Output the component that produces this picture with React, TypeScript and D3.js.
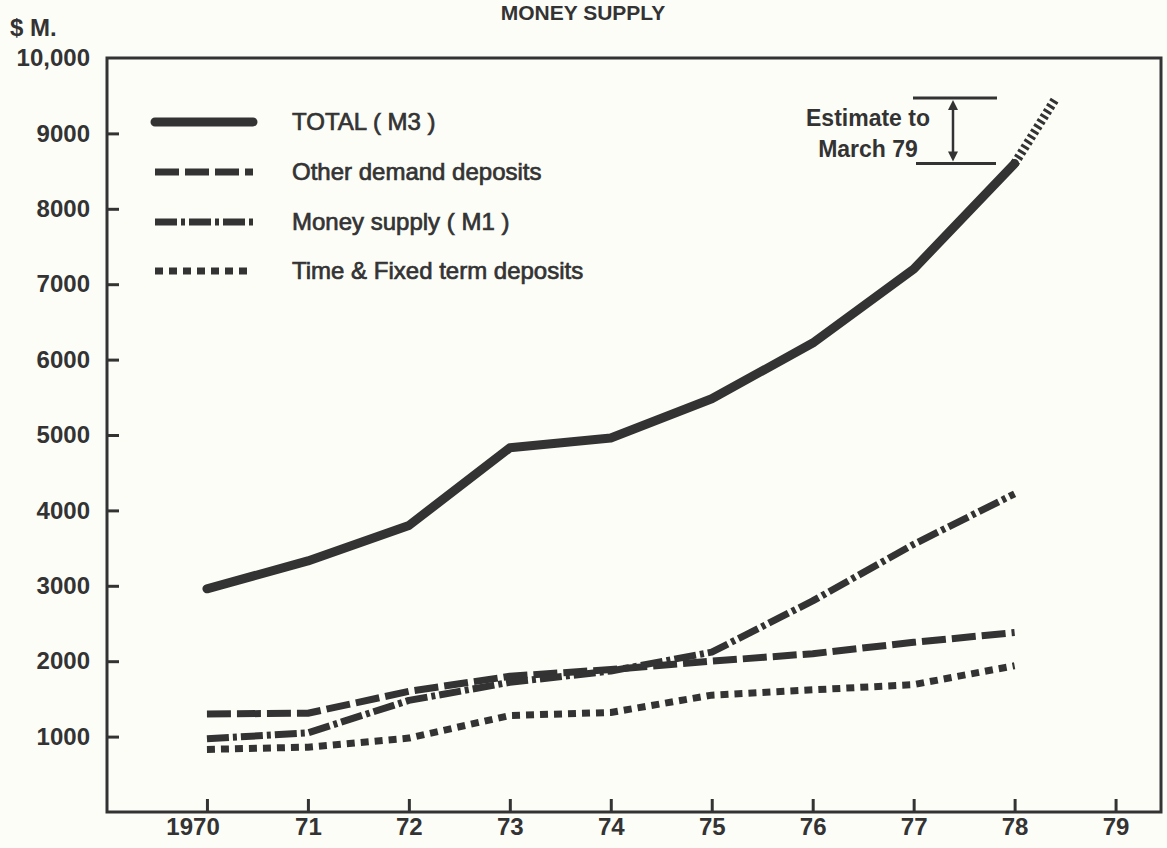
import * as d3 from "d3";
import { useEffect, useRef } from "react";

// values in $ million
const years = [1970, 1971, 1972, 1973, 1974, 1975, 1976, 1977, 1978];
const totalM3 = [2960, 3330, 3800, 4830, 4960, 5480, 6220, 7200, 8600];
const otherDemand = [1300, 1310, 1600, 1800, 1890, 2000, 2100, 2250, 2380];
const moneySupplyM1 = [970, 1050, 1480, 1720, 1870, 2120, 2800, 3550, 4220];
const timeFixed = [830, 860, 980, 1280, 1320, 1550, 1620, 1690, 1940];

// estimate to March 79
const estimateYears = [1978, 1978.41];
const estimateValues = [8600, 9470];

const yTicks = [1000, 2000, 3000, 4000, 5000, 6000, 7000, 8000, 9000, 10000];
const xTicks = [1970, 1971, 1972, 1973, 1974, 1975, 1976, 1977, 1978, 1979];
const xTickLabels = ["1970", "71", "72", "73", "74", "75", "76", "77", "78", "79"];

const legendLabels = ["TOTAL ( M3 )", "Other demand deposits", "Money supply ( M1 )", "Time & Fixed term deposits"];

const W = 1167;
const H = 848;
const INK = "#333";
const FONT = "'Liberation Sans', Arial, Helvetica, sans-serif";

const App = () => {
  const ref = useRef<SVGSVGElement>(null);

  useEffect(() => {
    const svg = d3.select(ref.current);
    svg.selectAll("*").remove();

    const margin = { top: 58, right: 6, bottom: 36, left: 107 };

    svg.append("rect").attr("width", W).attr("height", H).attr("fill", "#fdfdf8");

    const x = d3.scaleLinear().domain([1969.01, 1979.45]).range([margin.left, W - margin.right]);
    const y = d3.scaleLinear().domain([0, 10000]).range([H - margin.bottom, margin.top]);

    // frame
    svg
      .append("rect")
      .attr("x", margin.left)
      .attr("y", margin.top)
      .attr("width", W - margin.right - margin.left)
      .attr("height", H - margin.bottom - margin.top)
      .attr("fill", "none")
      .attr("stroke", INK)
      .attr("stroke-width", 3);

    // Y axis (ticks point inward)
    const yAxis = svg
      .append("g")
      .attr("transform", `translate(${margin.left},0)`)
      .call(
        d3
          .axisLeft(y)
          .tickValues(yTicks)
          .tickSize(-12)
          .tickPadding(17)
          .tickFormat((d) => (+d === 10000 ? "10,000" : String(d)))
      );
    yAxis.select(".domain").remove();
    yAxis.selectAll("line").attr("stroke", INK).attr("stroke-width", 3);
    yAxis.selectAll(".tick").filter((d) => d === 10000).select("line").remove();
    yAxis
      .selectAll("text")
      .attr("fill", INK)
      .style("font-family", FONT)
      .style("font-size", "24px")
      .style("font-weight", "bold");

    // X axis
    const xAxis = svg
      .append("g")
      .attr("transform", `translate(0,${H - margin.bottom})`)
      .call(
        d3
          .axisBottom(x)
          .tickValues(xTicks)
          .tickSize(-13)
          .tickPadding(6)
          .tickFormat((d, i) => xTickLabels[i])
      );
    xAxis.select(".domain").remove();
    xAxis.selectAll("line").attr("stroke", INK).attr("stroke-width", 3);
    xAxis
      .selectAll("text")
      .attr("fill", INK)
      .style("font-family", FONT)
      .style("font-size", "24px")
      .style("font-weight", "bold");
    xAxis.selectAll("text").filter((d) => d === 1970).attr("dx", "-0.6em");

    // series
    const series = [
      { values: totalM3, width: 9, dash: null, cap: "round" },
      { values: otherDemand, width: 7, dash: "24 6", cap: "butt" },
      { values: moneySupplyM1, width: 7, dash: "22 4 4 4", cap: "butt" },
      { values: timeFixed, width: 7, dash: "8 6", cap: "butt" },
    ];

    const line = d3
      .line<number>()
      .x((d, i) => x(years[i]))
      .y((d) => y(d));

    series.forEach((s) => {
      svg
        .append("path")
        .datum(s.values)
        .attr("d", line)
        .attr("fill", "none")
        .attr("stroke", INK)
        .attr("stroke-width", s.width)
        .attr("stroke-linecap", s.cap)
        .attr("stroke-linejoin", "round")
        .attr("stroke-dasharray", s.dash);
    });

    // estimate (hatched)
    const estLine = d3
      .line<number>()
      .x((d, i) => x(estimateYears[i]))
      .y((d) => y(d));
    svg
      .append("path")
      .datum(estimateValues)
      .attr("d", estLine)
      .attr("fill", "none")
      .attr("stroke", INK)
      .attr("stroke-width", 9)
      .attr("stroke-dasharray", "3 3");

    // estimate bracket
    const bx = 953;
    const yTop = y(estimateValues[1]);
    const yBot = y(estimateValues[0]);
    svg.append("line").attr("x1", 913).attr("x2", 997).attr("y1", yTop).attr("y2", yTop).attr("stroke", INK).attr("stroke-width", 3);
    svg.append("line").attr("x1", 916).attr("x2", 996).attr("y1", yBot).attr("y2", yBot).attr("stroke", INK).attr("stroke-width", 3);
    svg.append("line").attr("x1", bx).attr("x2", bx).attr("y1", yTop + 6).attr("y2", yBot - 6).attr("stroke", INK).attr("stroke-width", 2.5);
    svg
      .append("path")
      .attr("d", `M${bx - 5},${yTop + 12} L${bx},${yTop + 2} L${bx + 5},${yTop + 12} Z`)
      .attr("fill", INK);
    svg
      .append("path")
      .attr("d", `M${bx - 5},${yBot - 12} L${bx},${yBot - 2} L${bx + 5},${yBot - 12} Z`)
      .attr("fill", INK);

    const est = svg
      .append("text")
      .attr("text-anchor", "middle")
      .attr("fill", INK)
      .style("font-family", FONT)
      .style("font-size", "23px")
      .style("font-weight", "bold");
    est.append("tspan").attr("x", 868).attr("y", 126).text("Estimate to");
    est.append("tspan").attr("x", 868).attr("y", 157).text("March 79");

    // legend
    const legendY = [122, 172, 222, 271];
    series.forEach((s, i) => {
      svg
        .append("line")
        .attr("x1", 155)
        .attr("x2", 253)
        .attr("y1", legendY[i])
        .attr("y2", legendY[i])
        .attr("stroke", INK)
        .attr("stroke-width", s.width)
        .attr("stroke-linecap", s.cap)
        .attr("stroke-dasharray", s.dash);
      svg
        .append("text")
        .attr("x", 292)
        .attr("y", legendY[i] + 8)
        .attr("fill", INK)
        .attr("stroke", INK)
        .attr("stroke-width", 0.7)
        .style("font-family", FONT)
        .style("font-size", "24px")
        .text(legendLabels[i]);
    });

    // titles
    svg
      .append("text")
      .attr("x", 583)
      .attr("y", 20)
      .attr("text-anchor", "middle")
      .attr("fill", INK)
      .style("font-family", FONT)
      .style("font-size", "21px")
      .style("font-weight", "bold")
      .text("MONEY SUPPLY");
    svg
      .append("text")
      .attr("x", 10)
      .attr("y", 36)
      .attr("fill", INK)
      .style("font-family", FONT)
      .style("font-size", "24px")
      .style("font-weight", "bold")
      .text("$ M.");
  }, []);

  return <svg ref={ref} width={W} height={H} style={{ position: "absolute", left: 0, top: 0 }} />;
};

export default App;
